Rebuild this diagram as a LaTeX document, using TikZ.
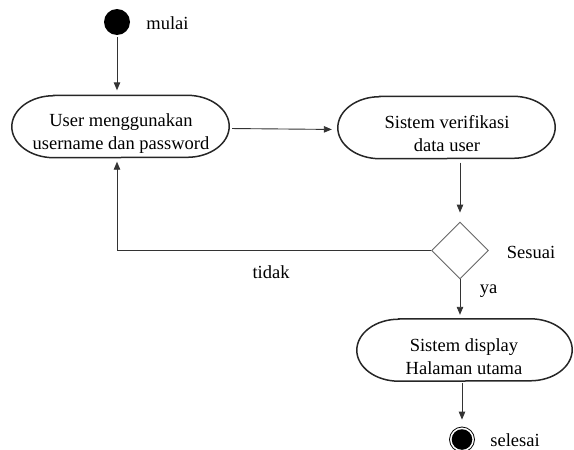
\documentclass[tikz,border=0pt]{standalone}
\usepackage{fontspec}
\setmainfont{Liberation Serif}
\usetikzlibrary{arrows.meta,shapes.geometric,calc}
% outline of an activity: flat top and bottom with elliptic ends
\newcommand\actoutline[1]{%
  \draw[actline] ([xshift=42pt]#1.north west) -- ([xshift=-42pt]#1.north east)
    arc[start angle=90,end angle=-90,x radius=42pt,y radius=31pt]
    -- ([xshift=42pt]#1.south west)
    arc[start angle=270,end angle=90,x radius=42pt,y radius=31pt] -- cycle;}
\begin{document}
\begin{tikzpicture}[x=1pt,y=-1pt,
  font=\fontsize{18.5}{23}\selectfont,
  act/.style={minimum width=#1, minimum height=62pt, inner sep=0pt},
  actline/.style={line width=1.5pt, black!85},
  acttext/.style={align=center, inner sep=0pt},
  flow/.style={line width=0.9pt, black!80, -{Triangle[length=8pt,width=6.5pt]}},
  decision/.style={diamond, draw=black!60, line width=0.9pt, minimum width=57pt,
    minimum height=57pt, inner sep=0pt, aspect=1},
  lbl/.style={inner sep=0pt}]
\useasboundingbox (0,0) rectangle (574,450);

% start and end points
\node[circle, fill=black, minimum size=26pt, inner sep=0pt] (start) at (117,22) {};
\node[circle, draw=black, line width=0.8pt, minimum size=25pt, inner sep=0pt,
  path picture={\fill[black] (path picture bounding box.center) circle (10.3pt);}]
  (end) at (462,439.5) {};

% activities
\node[act=217pt] (n1) at (120.5,126.5) {};
\node[act=217pt] (n2) at (446.5,127.5) {};
\node[act=215pt] (n3) at (464.5,350) {};
\actoutline{n1}
\actoutline{n2}
\actoutline{n3}
\node[acttext] (t1) at (121,134) {User menggunakan\\username dan password};
\node[acttext] (t2) at (447,134) {Sistem verifikasi\\data user};
\node[acttext] (t3) at (464,357) {Sistem display\\Halaman utama};

% decision
\node[decision] (dia) at (460,250.5) {};

% connectors
\draw[flow, shorten <=2pt, shorten >=5pt] (start.south) -- (start |- n1.north);
\draw[flow, shorten <=3pt, shorten >=6pt] ([yshift=-2pt]n1.east) -- ([yshift=-2pt]n2.west);
\draw[flow, shorten <=4pt, shorten >=9pt] (dia |- n2.south) -- (dia.north);
\draw[flow, shorten >=4pt] (dia.west) -| (start |- n1.south);
\draw[flow, shorten >=4pt] (dia.south) -- (dia |- n3.north);
\draw[flow, shorten <=2pt, shorten >=7pt] (end |- n3.south) -- (end.north);

% labels
\node[lbl] (lmulai) at (167.5,23) {mulai};
\node[lbl] (lsesuai) at (531,252) {Sesuai};
\node[lbl] (lya) at (488.5,291) {ya};
\node[lbl] (ltidak) at (271,272) {tidak};
\node[lbl] (lselesai) at (515,440) {selesai};
\end{tikzpicture}
\end{document}
